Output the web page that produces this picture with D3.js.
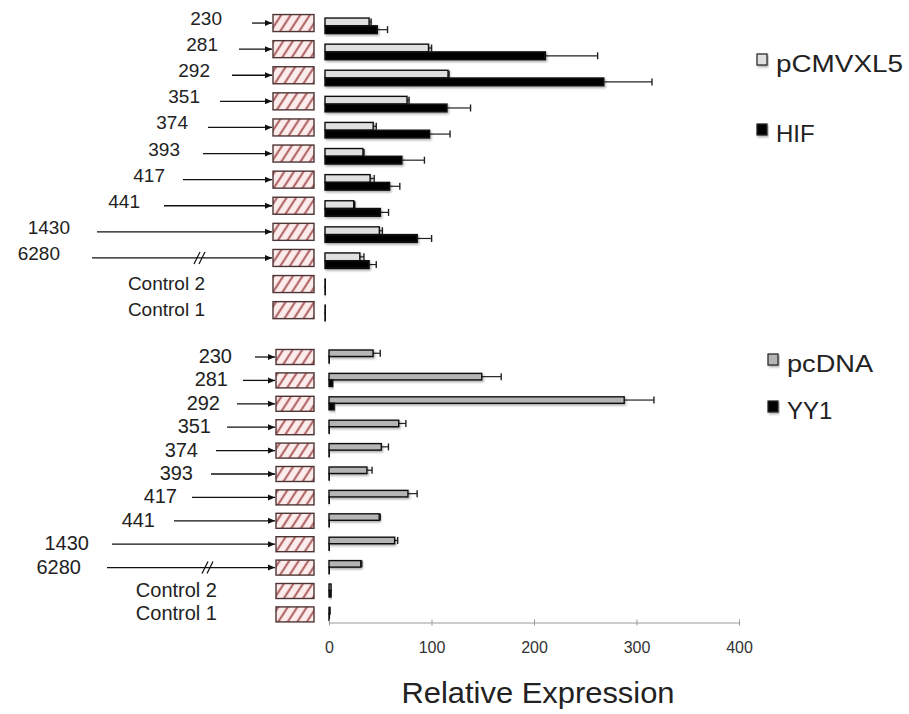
<!DOCTYPE html>
<html>
<head>
<meta charset="utf-8">
<script src="https://cdn.jsdelivr.net/npm/d3@7"></script>
<style>
  body { margin: 0; background: #fff; }
  text { font-family: "Liberation Sans", Arial, Helvetica, sans-serif; fill: #222; }
</style>
</head>
<body>
<svg id="chart" width="909" height="714"></svg>
<script>
// promoter constructs, top to bottom
const constructs = ["230", "281", "292", "351", "374", "393", "417", "441", "1430", "6280", "Control 2", "Control 1"];

// upper panel
const pCMVXL5    = [43, 101, 120, 80, 47, 37, 44, 28, 53, 34, 0.4, 0.4];
const pCMVXL5Err = [2, 3, 1, 2, 3, 1, 4, 1, 3, 4, 0, 0];
const hif        = [51, 215, 272, 119, 102, 75, 63, 54, 90, 43, 0.4, 0.4];
const hifErr     = [10, 51, 47, 23, 20, 22, 10, 8, 14, 7, 0, 0];

// lower panel
const pcDNA    = [43, 149, 288, 68, 51, 37, 77, 49, 64, 31, 2, 1];
const pcDNAErr = [7, 19, 29, 7, 7, 5, 9, 1, 3, 1, 0, 0];
const yy1      = [0.3, 3.5, 5, 0.3, 0.3, 0.3, 0.3, 0.3, 0.3, 0.3, 2, 0.3];
const yy1Err   = [0, 0, 0, 0, 0, 0, 0, 0, 0, 0, 0, 0];

const xTicks = [0, 100, 200, 300, 400];

let svg = d3.select("#chart");
let defs = svg.append("defs");

// hatched box fill
let hatch = defs.append("pattern")
  .attr("id", "hatch")
  .attr("patternUnits", "userSpaceOnUse")
  .attr("width", 8)
  .attr("height", 8)
  .attr("patternTransform", "rotate(33)");
hatch.append("rect").attr("width", 8).attr("height", 8).attr("fill", "#fcecec");
hatch.append("line")
  .attr("x1", 4).attr("x2", 4).attr("y1", 0).attr("y2", 8)
  .attr("stroke", "#b4696b").attr("stroke-width", 2.2);

let shadow = defs.append("filter").attr("id", "shadow")
  .attr("x", "-20%").attr("y", "-40%").attr("width", "140%").attr("height", "200%");
shadow.append("feDropShadow")
  .attr("dx", 1.2).attr("dy", 1.5).attr("stdDeviation", 1)
  .attr("flood-color", "#000").attr("flood-opacity", 0.35);

defs.append("marker")
  .attr("id", "arrow")
  .attr("markerUnits", "userSpaceOnUse")
  .attr("markerWidth", 8).attr("markerHeight", 7)
  .attr("refX", 7).attr("refY", 3.5)
  .attr("orient", "auto")
  .append("path").attr("d", "M0,0.5L7,3.5L0,6.5Z").attr("fill", "#111");

function drawPanel(p) {
  let y = d3.scaleBand().domain(constructs).range(p.yRange);
  let mid = d => y(d) + y.bandwidth() / 2;
  let sub = d3.scaleBand().domain([0, 1]).range(p.subRange);
  let x = d3.scaleLinear().domain([0, 400]).range(p.xRange);
  let g = svg.append("g");

  // hatched construct boxes
  g.selectAll("rect.box").data(constructs).join("rect")
    .attr("class", "box")
    .attr("x", p.boxX)
    .attr("y", d => mid(d) - p.boxH / 2)
    .attr("width", p.boxW)
    .attr("height", p.boxH)
    .attr("fill", "url(#hatch)")
    .attr("stroke", "#4e3535")
    .attr("stroke-width", 1.4);

  // arrows from the start position
  let numbered = constructs.slice(0, 10);
  g.selectAll("line.arrow").data(numbered).join("line")
    .attr("x1", (d, i) => p.tailX[i])
    .attr("x2", p.boxX - 1)
    .attr("y1", mid).attr("y2", mid)
    .attr("stroke", "#111").attr("stroke-width", 1.3)
    .attr("marker-end", "url(#arrow)");

  // break mark on the long arrow
  let by = mid("6280");
  [0, 5].forEach(o => {
    g.append("line")
      .attr("x1", p.breakX + o - 3).attr("x2", p.breakX + o + 3)
      .attr("y1", by + 6).attr("y2", by - 6)
      .attr("stroke", "#111").attr("stroke-width", 1.2);
  });

  g.selectAll("text.num").data(numbered).join("text")
    .attr("class", "num")
    .attr("x", (d, i) => p.labelX[i])
    .attr("y", d => mid(d) + p.numDy)
    .attr("text-anchor", "end")
    .attr("font-size", p.fontSize)
    .text(d => d);

  g.selectAll("text.ctrl").data(constructs.slice(10)).join("text")
    .attr("class", "ctrl")
    .attr("x", p.ctrlX)
    .attr("y", d => mid(d) + 6)
    .attr("text-anchor", "end")
    .attr("font-size", p.fontSize)
    .text(d => d);

  // bars + error bars
  p.series.forEach((s, si) => {
    let rows = constructs.map((c, i) => ({ c: c, v: s.values[i], e: s.errs[i] }));
    let top = d => mid(d.c) + sub(si);
    let cy = d => top(d) + sub.bandwidth() / 2;

    let eb = g.append("g").selectAll("g").data(rows.filter(d => d.e > 0)).join("g");
    eb.append("line")
      .attr("x1", d => x(d.v)).attr("x2", d => x(d.v + d.e))
      .attr("y1", cy).attr("y2", cy)
      .attr("stroke", "#222").attr("stroke-width", 1.2);
    eb.append("line")
      .attr("x1", d => x(d.v + d.e)).attr("x2", d => x(d.v + d.e))
      .attr("y1", d => cy(d) - 3.5).attr("y2", d => cy(d) + 3.5)
      .attr("stroke", "#222").attr("stroke-width", 1.4);

    g.append("g").selectAll("rect").data(rows).join("rect")
      .attr("x", x(0))
      .attr("y", top)
      .attr("width", d => x(d.v) - x(0))
      .attr("height", sub.bandwidth())
      .attr("fill", s.color)
      .attr("stroke", "#111")
      .attr("stroke-width", 1.4)
      .attr("filter", "url(#shadow)");
  });

  // legend
  let lg = g.append("g").selectAll("g").data(p.series).join("g")
    .attr("transform", (d, i) => `translate(${p.legend[i][0]},${p.legend[i][1]})`);
  lg.append("rect")
    .attr("x", 0).attr("y", -18).attr("width", 10).attr("height", 11)
    .attr("fill", d => d.color).attr("stroke", "#222").attr("stroke-width", 1.2)
    .attr("filter", "url(#shadow)");
  lg.append("text")
    .attr("x", p.legendGap).attr("y", 0)
    .attr("font-size", 24)
    .each(function (d) {
      if (d.textLen) d3.select(this).attr("textLength", d.textLen).attr("lengthAdjust", "spacingAndGlyphs");
    })
    .text(d => d.name);

  return x;
}

drawPanel({
  yRange: [10, 323.2],
  subRange: [-5, 10.5],
  xRange: [325, 735],
  boxX: 273, boxW: 41, boxH: 17,
  tailX: [252, 239, 232, 220, 208, 203, 183, 164, 97, 92],
  labelX: [222, 218, 210, 200, 188, 180, 165, 140, 70, 60],
  ctrlX: 205,
  breakX: 197,
  numDy: 2,
  fontSize: 19,
  legend: [[757, 72], [757, 142]],
  legendGap: 19,
  series: [
    { name: "pCMVXL5", values: pCMVXL5, errs: pCMVXL5Err, color: "#e0e0e0", textLen: 127 },
    { name: "HIF", values: hif, errs: hifErr, color: "#050505" }
  ]
});

let xBottom = drawPanel({
  yRange: [345.3, 626.1],
  subRange: [-7, 6],
  xRange: [329, 739],
  boxX: 276, boxW: 38, boxH: 15,
  tailX: [255, 243, 237, 227, 216, 211, 192, 174, 112, 107],
  labelX: [232, 228, 220, 211, 198, 193, 177, 155, 89, 81],
  ctrlX: 217,
  breakX: 205,
  numDy: 6,
  fontSize: 20,
  legend: [[768, 372], [768, 419]],
  legendGap: 19,
  series: [
    { name: "pcDNA", values: pcDNA, errs: pcDNAErr, color: "#b5b5b5", textLen: 86 },
    { name: "YY1", values: yy1, errs: yy1Err, color: "#050505" }
  ]
});

// x axis for the lower panel
let axis = svg.append("g")
  .attr("transform", "translate(0,622.5)")
  .call(d3.axisBottom(xBottom).tickValues(xTicks).tickSize(3).tickPadding(16).tickSizeOuter(0));
axis.select(".domain").attr("stroke", "#999");
axis.selectAll(".tick line").attr("stroke", "#999").attr("y1", -3);
axis.selectAll(".tick text")
  .attr("font-size", 16)
  .attr("font-family", "\"Liberation Sans\", Arial, sans-serif")
  .style("fill", "#333");

svg.append("text")
  .attr("x", 538)
  .attr("y", 703)
  .attr("text-anchor", "middle")
  .attr("font-size", 29)
  .attr("textLength", 273)
  .attr("lengthAdjust", "spacingAndGlyphs")
  .text("Relative Expression");
</script>
</body>
</html>
